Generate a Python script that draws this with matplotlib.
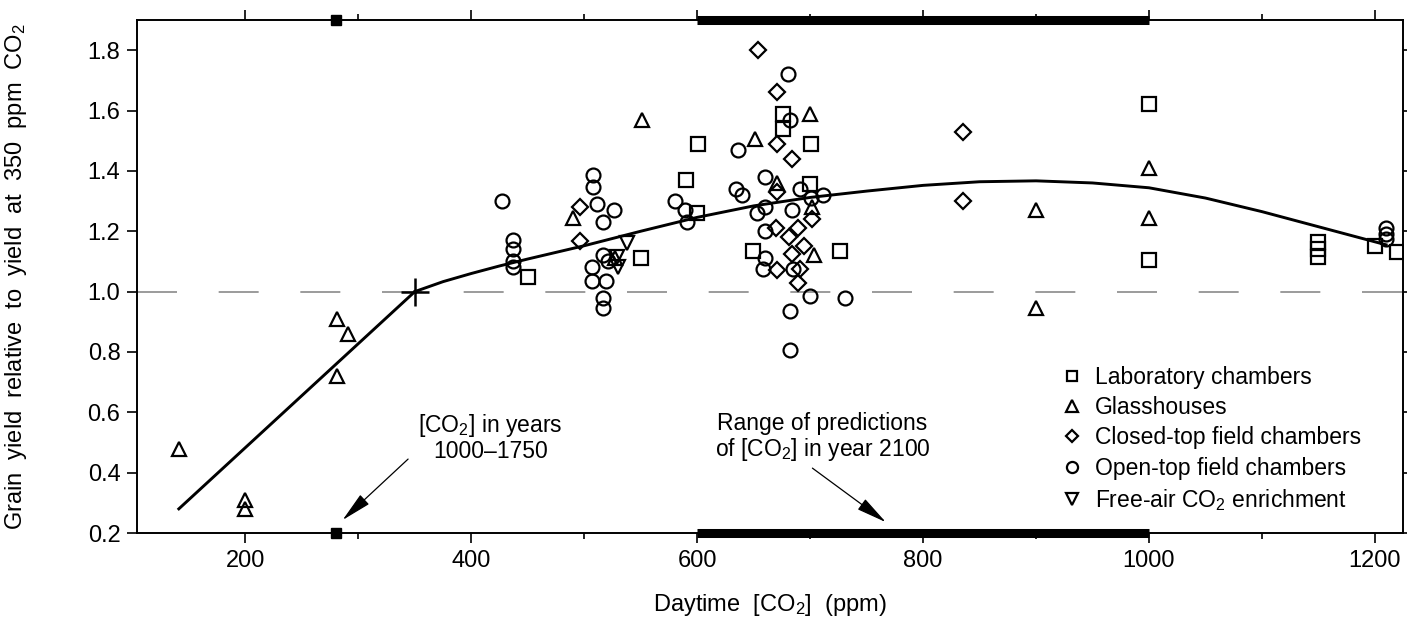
import matplotlib
matplotlib.use("Agg")
import matplotlib.pyplot as plt

plt.rcParams['font.family'] = ['Liberation Sans', 'DejaVu Sans']
plt.rcParams['mathtext.fontset'] = 'custom'
plt.rcParams['mathtext.rm'] = 'Liberation Sans'
plt.rcParams['mathtext.it'] = 'Liberation Sans:italic'
plt.rcParams['mathtext.bf'] = 'Liberation Sans:bold'

# data
lab_x = [450, 550, 590, 601, 600, 649, 676, 676, 701, 700, 726, 1000, 1000, 1150, 1150, 1150, 1200, 1220]
lab_y = [1.05, 1.11, 1.37, 1.49, 1.26, 1.135, 1.59, 1.54, 1.49, 1.355, 1.136, 1.62, 1.105, 1.165, 1.14, 1.115, 1.15, 1.13]

glass_x = [141, 200, 200, 281, 291, 281, 490, 527, 551, 651, 700, 671, 702, 703, 900, 900, 1000, 1000]
glass_y = [0.48, 0.31, 0.28, 0.91, 0.86, 0.72, 1.245, 1.11, 1.57, 1.505, 1.59, 1.36, 1.28, 1.12, 1.27, 0.944, 1.41, 1.245]

closed_x = [496, 496, 654, 671, 671, 684, 671, 702, 670, 689, 681, 684, 671, 691, 689, 695, 835, 835]
closed_y = [1.28, 1.166, 1.80, 1.66, 1.49, 1.44, 1.33, 1.24, 1.21, 1.21, 1.18, 1.125, 1.07, 1.075, 1.03, 1.15, 1.53, 1.30]

open_x = [427, 437, 437, 437, 437, 508, 508, 511, 526, 517, 517, 507, 521, 507, 519, 517, 517,
          580, 589, 591, 636, 634, 640, 680, 682, 660, 691, 711, 701, 660, 653, 684, 660, 660,
          658, 685, 700, 731, 682, 682, 1210, 1210, 1210]
open_y = [1.30, 1.17, 1.14, 1.10, 1.08, 1.385, 1.345, 1.29, 1.27, 1.23, 1.12, 1.08, 1.10, 1.036, 1.036, 0.98, 0.945,
          1.30, 1.27, 1.23, 1.47, 1.34, 1.32, 1.72, 1.57, 1.38, 1.34, 1.32, 1.31, 1.28, 1.26, 1.27, 1.20, 1.11,
          1.075, 1.075, 0.987, 0.98, 0.937, 0.805, 1.21, 1.19, 1.175]

face_x = [538, 529, 530]
face_y = [1.16, 1.115, 1.08]

# fitted response curve (traced)
line_x = [141, 350]
line_y = [0.28, 1.0]
curve_x = [350, 375, 400, 425, 450, 500, 550, 600, 650, 700, 750, 800, 850, 900, 950, 1000, 1050, 1100,
           1150, 1200, 1210]
curve_y = [1.0, 1.033, 1.060, 1.085, 1.108, 1.152, 1.200, 1.246, 1.284, 1.312, 1.333, 1.352, 1.364, 1.367,
           1.360, 1.344, 1.310, 1.265, 1.215, 1.165, 1.155]

past_co2 = 280
future_range = [600, 1000]

fig = plt.figure(figsize=(14.07, 6.21), dpi=100)
ax = fig.add_axes([0.0974, 0.1417, 0.8998, 0.8261])

ax.axhline(1.0, color='#8a8a8a', lw=1.2, dashes=(24, 25), zorder=1)

ax.plot(line_x, line_y, color='black', lw=2.1, zorder=3)
ax.plot(curve_x, curve_y, color='black', lw=2.1, zorder=3)
ax.plot([350], [1.0], marker='+', ms=20, mew=1.8, color='black', zorder=4)

mk = dict(ls='none', mfc='none', mec='black', mew=1.6, ms=9.5, zorder=5)
ax.plot(lab_x, lab_y, marker='s', label='Laboratory chambers', **mk)
ax.plot(glass_x, glass_y, marker='^', label='Glasshouses', **dict(mk, ms=10.5))
ax.plot(closed_x, closed_y, marker='D', label='Closed-top field chambers', **dict(mk, ms=8))
ax.plot(open_x, open_y, marker='o', label='Open-top field chambers', **dict(mk, ms=10))
ax.plot(face_x, face_y, marker='v', label='Free-air CO$_2$ enrichment', **dict(mk, ms=10.5))

# markers on the frame: pre-industrial level and 2100 range
for yy in [0.2, 1.9]:
    ax.plot(future_range, [yy, yy], color='black', lw=6.5, solid_capstyle='butt', clip_on=False, zorder=6)
    ax.plot([past_co2], [yy], marker='s', ms=7, color='black', clip_on=False, zorder=6)

ax.text(417, 0.515, '[CO$_2$] in years\n1000\u20131750', ha='center', va='center', fontsize=16.5, linespacing=1.05)
ax.text(711, 0.515, 'Range of predictions\nof [CO$_2$] in year 2100', ha='center', va='center', fontsize=16.5,
        linespacing=1.05)
arrow = dict(arrowstyle='-|>,head_length=0.95,head_width=0.2', color='black', lw=0.9, mutation_scale=20,
             shrinkA=0, shrinkB=0)
ax.annotate('', xy=(286, 0.243), xytext=(344, 0.445), arrowprops=arrow)
ax.annotate('', xy=(767, 0.236), xytext=(702, 0.415), arrowprops=arrow)

ax.set_xlim(104, 1225)
ax.set_ylim(0.2, 1.9)
ax.set_xticks([200, 400, 600, 800, 1000, 1200])
ax.set_xticks([300, 500, 700, 900, 1100], minor=True)
ax.set_yticks([0.2, 0.4, 0.6, 0.8, 1.0, 1.2, 1.4, 1.6, 1.8])
ax.set_yticklabels(['0.2', '0.4', '0.6', '0.8', '1.0', '1.2', '1.4', '1.6', '1.8'])
ax.tick_params(axis='both', which='major', labelsize=17, length=7, width=1.2, direction='out', pad=5)
ax.tick_params(axis='x', which='minor', length=4, width=1.2, direction='out')
ax.tick_params(axis='x', which='both', top=True)
ax.tick_params(axis='y', which='both', right=True)
for s in ax.spines.values():
    s.set_linewidth(1.4)

ax.set_xlabel('Daytime  [CO$_2$]  (ppm)', fontsize=17)
ax.xaxis.set_label_coords(0.5, -0.115)
ax.set_ylabel('Grain  yield  relative  to  yield  at  350  ppm  CO$_2$', fontsize=17)
ax.yaxis.set_label_coords(-0.085, 0.5)

ax.legend(loc='upper left', bbox_to_anchor=(0.731, 0.326), frameon=False, fontsize=16.5,
          handlelength=0.8, handletextpad=0.6, labelspacing=0.32, borderpad=0, borderaxespad=0,
          markerscale=0.8)

fig.savefig('out.png', dpi=100)
